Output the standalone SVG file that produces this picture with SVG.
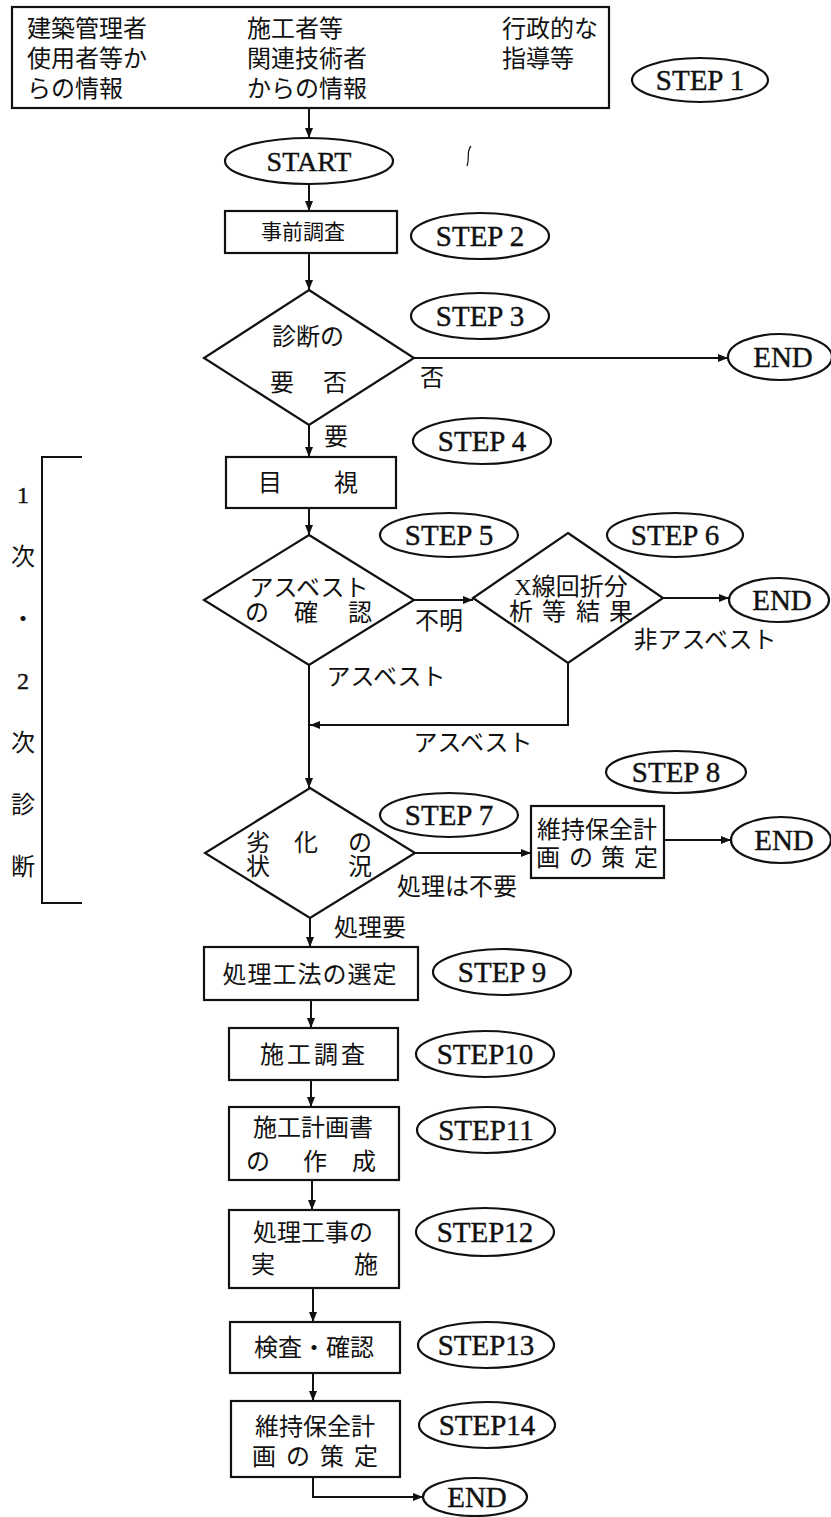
<svg xmlns="http://www.w3.org/2000/svg" width="831" height="1517" viewBox="0 0 831 1517">
<style>
.bg{fill:#fff}
.n{fill:#fff;stroke:#111;stroke-width:2.2}
.c{fill:none;stroke:#111;stroke-width:2}
.j{font-family:"Liberation Serif","Noto Sans CJK JP",serif;font-size:24px;fill:#111;dominant-baseline:central}
.m{text-anchor:middle}
.s{font-family:"Liberation Serif",serif;font-size:29px;fill:#111;text-anchor:middle;dominant-baseline:central;stroke:#111;stroke-width:0.4}
</style>
<defs>
<marker id="ah" viewBox="0 0 10 10" refX="10" refY="5" markerWidth="10" markerHeight="10" markerUnits="userSpaceOnUse" orient="auto">
<path d="M0,1 L10,5 L0,9 Z" fill="#111"/>
</marker>
</defs>
<rect class="bg" x="0" y="0" width="831" height="1517"/>

<g id="connectors">
<path class="c" d="M309,108 V138" marker-end="url(#ah)"/>
<path class="c" d="M309,184 V211" marker-end="url(#ah)"/>
<path class="c" d="M309,253 V290" marker-end="url(#ah)"/>
<path class="c" d="M414,358 H728" marker-end="url(#ah)"/>
<path class="c" d="M309,425 V457" marker-end="url(#ah)"/>
<path class="c" d="M309,508 V535" marker-end="url(#ah)"/>
<path class="c" d="M414,600 H473" marker-end="url(#ah)"/>
<path class="c" d="M663,598 H729" marker-end="url(#ah)"/>
<path class="c" d="M309,665 V788" marker-end="url(#ah)"/>
<path class="c" d="M568,663 V725 H310" marker-end="url(#ah)"/>
<path class="c" d="M415,853 H531" marker-end="url(#ah)"/>
<path class="c" d="M664,840 H731" marker-end="url(#ah)"/>
<path class="c" d="M310,918 V947" marker-end="url(#ah)"/>
<path class="c" d="M311,1000 V1028" marker-end="url(#ah)"/>
<path class="c" d="M311,1080 V1107" marker-end="url(#ah)"/>
<path class="c" d="M312,1180 V1210" marker-end="url(#ah)"/>
<path class="c" d="M313,1288 V1322" marker-end="url(#ah)"/>
<path class="c" d="M313,1373 V1401" marker-end="url(#ah)"/>
<path class="c" d="M313,1477 V1497 H423" marker-end="url(#ah)"/>
<path class="c" d="M82,457 H42 V903 H82"/>
<path d="M471,146 C466,152 470,158 467,166" fill="none" stroke="#111" stroke-width="1.2"/>
<text class="j m" x="432" y="378">否</text>
<text class="j m" x="336" y="437">要</text>
<text class="j m" x="439" y="621">不明</text>
<text class="j m" x="705" y="640">非アスベスト</text>
<text class="j m" x="386" y="677">アスベスト</text>
<text class="j m" x="473" y="743">アスベスト</text>
<text class="j m" x="457" y="887">処理は不要</text>
<text class="j m" x="370" y="928">処理要</text>
</g>

<g id="bracket-label">
<text class="s" x="23" y="495" style="font-size:24px">1</text>
<text class="j m" x="23" y="557">次</text>
<text class="j m" x="23" y="619">・</text>
<text class="s" x="23" y="681" style="font-size:24px">2</text>
<text class="j m" x="23" y="743">次</text>
<text class="j m" x="23" y="805">診</text>
<text class="j m" x="23" y="867">断</text>
</g>

<g id="info">
<rect class="n" x="12" y="7" width="597" height="101"/>
<text class="j" x="27" y="29">建築管理者</text>
<text class="j" x="27" y="59">使用者等か</text>
<text class="j" x="27" y="89">らの情報</text>
<text class="j" x="247" y="29">施工者等</text>
<text class="j" x="247" y="59">関連技術者</text>
<text class="j" x="247" y="89">からの情報</text>
<text class="j" x="502" y="29">行政的な</text>
<text class="j" x="502" y="59">指導等</text>
</g>
<g id="step1"><ellipse class="n" cx="700" cy="80" rx="68" ry="22"/><text class="s" x="700" y="80">STEP 1</text></g>

<g id="start"><ellipse class="n" cx="309" cy="161" rx="84" ry="23"/><text class="s" x="309" y="161" style="font-size:28px">START</text></g>

<g id="pre-survey"><rect class="n" x="225" y="211" width="172" height="42"/><text class="j m" x="303" y="232" style="font-size:21px">事前調査</text></g>
<g id="step2"><ellipse class="n" cx="480" cy="236" rx="69" ry="23"/><text class="s" x="480" y="236">STEP 2</text></g>

<g id="need-diagnosis">
<polygon class="n" points="309,290 414,358 309,425 204,358"/>
<text class="j m" x="308" y="337">診断の</text>
<text class="j m" x="282" y="383">要</text>
<text class="j m" x="335" y="383">否</text>
</g>
<g id="step3"><ellipse class="n" cx="480" cy="316" rx="69" ry="23"/><text class="s" x="480" y="316">STEP 3</text></g>
<g id="end1"><ellipse class="n" cx="780" cy="357" rx="52" ry="23"/><text class="s" x="783" y="357">END</text></g>

<g id="step4"><ellipse class="n" cx="482" cy="441" rx="69" ry="23"/><text class="s" x="482" y="441">STEP 4</text></g>
<g id="visual"><rect class="n" x="226" y="457" width="170" height="51"/><text class="j m" x="270" y="483">目</text><text class="j m" x="346" y="483">視</text></g>

<g id="asbestos-check">
<polygon class="n" points="309,535 414,600 309,665 204,600"/>
<text class="j m" x="309" y="588">アスベスト</text>
<text class="j m" x="257" y="613">の</text>
<text class="j m" x="306" y="613">確</text>
<text class="j m" x="360" y="613">認</text>
</g>
<g id="step5"><ellipse class="n" cx="449" cy="535" rx="69" ry="22"/><text class="s" x="449" y="535">STEP 5</text></g>

<g id="xray">
<polygon class="n" points="568,533 663,598 568,663 473,598"/>
<text class="j m" x="571" y="587">X線回折分</text>
<text class="j m" x="521" y="612">析</text>
<text class="j m" x="554" y="612">等</text>
<text class="j m" x="588" y="612">結</text>
<text class="j m" x="621" y="612">果</text>
</g>
<g id="step6"><ellipse class="n" cx="675" cy="535" rx="68" ry="22"/><text class="s" x="675" y="535">STEP 6</text></g>
<g id="end2"><ellipse class="n" cx="779" cy="600" rx="50" ry="22"/><text class="s" x="782" y="600">END</text></g>

<g id="deterioration">
<polygon class="n" points="310,788 415,853 310,918 205,853"/>
<text class="j m" x="258" y="843">劣</text>
<text class="j m" x="306" y="843">化</text>
<text class="j m" x="360" y="843">の</text>
<text class="j m" x="258" y="867">状</text>
<text class="j m" x="360" y="867">況</text>
</g>
<g id="step7"><ellipse class="n" cx="449" cy="815" rx="69" ry="22"/><text class="s" x="449" y="815">STEP 7</text></g>
<g id="step8"><ellipse class="n" cx="676" cy="772" rx="70" ry="21"/><text class="s" x="676" y="772">STEP 8</text></g>
<g id="maintenance-plan-a">
<rect class="n" x="531" y="806" width="133" height="72"/>
<text class="j m" x="597" y="830">維持保全計</text>
<text class="j m" x="548" y="858">画</text>
<text class="j m" x="581" y="858">の</text>
<text class="j m" x="613" y="858">策</text>
<text class="j m" x="646" y="858">定</text>
</g>
<g id="end3"><ellipse class="n" cx="781" cy="840" rx="50" ry="23"/><text class="s" x="784" y="840">END</text></g>

<g id="method"><rect class="n" x="204" y="947" width="214" height="53"/><text class="j m" x="310" y="975" style="letter-spacing:1px">処理工法の選定</text></g>
<g id="step9"><ellipse class="n" cx="502" cy="972" rx="69" ry="23"/><text class="s" x="502" y="972">STEP 9</text></g>

<g id="site-survey"><rect class="n" x="229" y="1028" width="169" height="52"/><text class="j m" x="314" y="1055" style="letter-spacing:3px">施工調査</text></g>
<g id="step10"><ellipse class="n" cx="485" cy="1054" rx="69" ry="23"/><text class="s" x="485" y="1054">STEP10</text></g>

<g id="work-plan">
<rect class="n" x="229" y="1107" width="170" height="73"/>
<text class="j m" x="313" y="1128">施工計画書</text>
<text class="j m" x="258" y="1162">の</text>
<text class="j m" x="315" y="1162">作</text>
<text class="j m" x="364" y="1162">成</text>
</g>
<g id="step11"><ellipse class="n" cx="486" cy="1130" rx="69" ry="23"/><text class="s" x="486" y="1130">STEP11</text></g>

<g id="work">
<rect class="n" x="229" y="1210" width="170" height="78"/>
<text class="j m" x="313" y="1233">処理工事の</text>
<text class="j m" x="263" y="1265">実</text>
<text class="j m" x="366" y="1265">施</text>
</g>
<g id="step12"><ellipse class="n" cx="485" cy="1232" rx="69" ry="24"/><text class="s" x="485" y="1232">STEP12</text></g>

<g id="inspection"><rect class="n" x="230" y="1322" width="170" height="51"/><text class="j m" x="314" y="1348">検査・確認</text></g>
<g id="step13"><ellipse class="n" cx="486" cy="1345" rx="68" ry="23"/><text class="s" x="486" y="1345">STEP13</text></g>

<g id="maintenance-plan-b">
<rect class="n" x="231" y="1401" width="169" height="76"/>
<text class="j m" x="315" y="1427">維持保全計</text>
<text class="j m" x="264" y="1457">画</text>
<text class="j m" x="298" y="1457">の</text>
<text class="j m" x="332" y="1457">策</text>
<text class="j m" x="366" y="1457">定</text>
</g>
<g id="step14"><ellipse class="n" cx="487" cy="1425" rx="68" ry="23"/><text class="s" x="487" y="1425">STEP14</text></g>
<g id="end4"><ellipse class="n" cx="475" cy="1497" rx="52" ry="19"/><text class="s" x="477" y="1497">END</text></g>
</svg>
